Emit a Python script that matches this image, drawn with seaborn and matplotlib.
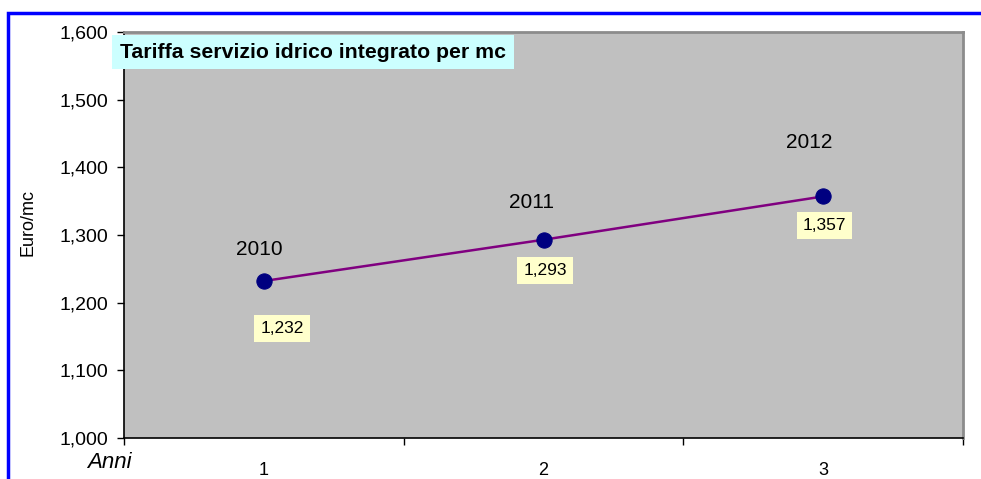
"""
Tariffa servizio idrico integrato per mc - line chart.
"""

import matplotlib
matplotlib.use("Agg")
import matplotlib.pyplot as plt
import matplotlib.patches as mpatches
from matplotlib.ticker import FuncFormatter, FixedLocator
import pandas as pd
import seaborn as sns

anni = ["2010", "2011", "2012"]
posizioni = [1, 2, 3]
tariffa = [1.232, 1.293, 1.357]
etichette_valori = ["1,232", "1,293", "1,357"]
categorie_x = ["1", "2", "3"]

# label offsets in points (year above, value box below)
off_anno = [(-3, 23), (-9, 27), (-10, 39)]
off_valore = [(13, -34), (1, -22), (1, -21)]


def main():
    sns.set_style("white")
    plt.rcParams["font.family"] = ["Liberation Sans", "DejaVu Sans"]
    plt.rcParams.update({"text.color": "black", "axes.labelcolor": "black",
                         "xtick.color": "black", "ytick.color": "black"})

    df = pd.DataFrame({"pos": posizioni, "tariffa": tariffa})

    fig = plt.figure(figsize=(9.81, 4.79), dpi=100)
    ax = fig.add_axes([124 / 981, 1 - 438 / 479, (963 - 124) / 981, (438 - 32) / 479])
    ax.set_facecolor("#C0C0C0")

    sns.lineplot(data=df, x="pos", y="tariffa", ax=ax, color="#800080", linewidth=1.8,
                 marker="o", markersize=11, markerfacecolor="#000080",
                 markeredgecolor="#000080", zorder=3)

    ax.set_xlim(0.5, 3.5)
    ax.set_ylim(1.0, 1.6)
    ax.set_yticks([1.0, 1.1, 1.2, 1.3, 1.4, 1.5, 1.6])
    ax.yaxis.set_major_formatter(FuncFormatter(lambda v, p: f"{v:.3f}".replace(".", ",")))
    ax.tick_params(axis="y", left=True, length=5, width=1, color="black", labelsize=14, pad=6)

    ax.xaxis.set_major_locator(FixedLocator([0.5, 1.5, 2.5, 3.5]))
    ax.xaxis.set_minor_locator(FixedLocator(posizioni))
    ax.set_xticklabels([])
    ax.set_xticklabels(categorie_x, minor=True)
    ax.tick_params(axis="x", which="major", bottom=True, length=5, width=1, color="black")
    ax.tick_params(axis="x", which="minor", bottom=True, length=0, labelsize=13, pad=17)

    ax.set_xlabel("")
    ax.set_ylabel("Euro/mc", fontsize=13)
    ax.yaxis.set_label_coords(-0.104, 0.532)

    for s in ["left", "bottom"]:
        ax.spines[s].set_color("black")
        ax.spines[s].set_linewidth(1.2)
    for s in ["top", "right"]:
        ax.spines[s].set_color("#8C8C8C")
        ax.spines[s].set_linewidth(2)

    for x, y, a, v, oa, ov in zip(posizioni, tariffa, anni, etichette_valori, off_anno, off_valore):
        ax.annotate(a, (x, y), xytext=oa, textcoords="offset points",
                    ha="center", va="center", fontsize=15)
        ax.annotate(v, (x, y), xytext=ov, textcoords="offset points",
                    ha="center", va="center", fontsize=12.5,
                    bbox=dict(boxstyle="square,pad=0.35", fc="#FFFFCC", ec="none"))

    ax.text(120 / 981, 1 - 52 / 479, "Tariffa servizio idrico integrato per mc",
            transform=fig.transFigure, ha="left", va="center", fontsize=15.3,
            fontweight="bold", zorder=5,
            bbox=dict(boxstyle="square,pad=0.36", fc="#CCFFFF", ec="none"))

    fig.text(109 / 981, 1 - 463 / 479, "Anni", fontsize=16, style="italic",
             ha="center", va="center")

    # blue frame around the chart
    frame = mpatches.Rectangle((8 / 981, -0.2), 1.2, 1.2 - 13 / 479, transform=fig.transFigure,
                               fill=False, ec="#0000FF", lw=2.5, clip_on=False)
    fig.add_artist(frame)

    fig.savefig("out.png", dpi=100)


if __name__ == "__main__":
    main()
